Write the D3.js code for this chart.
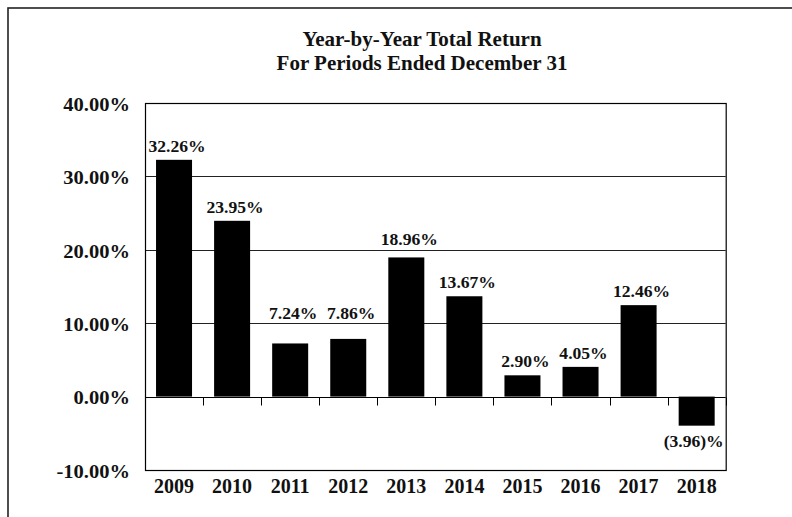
<!DOCTYPE html>
<html>
<head>
<meta charset="utf-8">
<script src="https://cdn.jsdelivr.net/npm/d3@7"></script>
<style>
  html, body { margin: 0; padding: 0; background: #fff; }
  svg { display: block; }
  text { font-family: "Liberation Serif", "Times New Roman", serif; font-weight: bold; fill: #111; }
</style>
</head>
<body>
<script>
const years = ["2009","2010","2011","2012","2013","2014","2015","2016","2017","2018"];
const returns = [32.26, 23.95, 7.24, 7.86, 18.96, 13.67, 2.90, 4.05, 12.46, -3.96];
const yTicks = [-10, 0, 10, 20, 30, 40];
const titleLines = ["Year-by-Year Total Return", "For Periods Ended December 31"];

const W = 792, H = 517;
const plot = { left: 145, right: 725.7, top: 103, bottom: 470 };

const svg = d3.select("body").append("svg").attr("width", W).attr("height", H);

// outer frame (extends beyond the visible area)
svg.append("rect").attr("x", 8).attr("y", 8).attr("width", 820).attr("height", 540)
  .attr("fill", "none").attr("stroke", "#222").attr("stroke-width", 1.6);

const x = d3.scaleBand().domain(years).range([plot.left, plot.right])
  .paddingInner(0.38).paddingOuter(0.19);
const y = d3.scaleLinear().domain([-10, 40]).range([plot.bottom, plot.top]);

// title
svg.selectAll("text.title").data(titleLines).join("text")
  .attr("class", "title")
  .attr("x", 422).attr("y", (d, i) => 45.7 + i * 24.5)
  .attr("text-anchor", "middle").style("font-size", "21px")
  .text(d => d);

// gridlines
svg.append("g").selectAll("line").data(yTicks.filter(t => t > -10 && t < 40 && t !== 0)).join("line")
  .attr("x1", plot.left).attr("x2", plot.right)
  .attr("y1", d => Math.round(y(d)) + 0.5).attr("y2", d => Math.round(y(d)) + 0.5)
  .attr("stroke", "#222").attr("stroke-width", 1);

// bars
svg.append("g").selectAll("rect").data(years).join("rect")
  .attr("x", d => x(d))
  .attr("width", x.bandwidth())
  .attr("y", (d, i) => y(Math.max(0, returns[i])))
  .attr("height", (d, i) => Math.abs(y(returns[i]) - y(0)))
  .attr("fill", "#000");

// zero line
const y0 = Math.round(y(0)) + 0.5;
svg.append("line").attr("x1", plot.left).attr("x2", plot.right)
  .attr("y1", y0).attr("y2", y0).attr("stroke", "#000").attr("stroke-width", 1.2);

// ticks between categories on zero line
const step = x.step();
const tickXs = years.slice(1).map(d => x(d) - step * x.paddingInner() / 2).concat([plot.right]);
svg.append("g").selectAll("line").data(tickXs).join("line")
  .attr("x1", d => Math.round(d) + 0.5).attr("x2", d => Math.round(d) + 0.5)
  .attr("y1", y0).attr("y2", y0 + 8)
  .attr("stroke", "#000").attr("stroke-width", 1);

// plot frame
svg.append("rect")
  .attr("x", plot.left + 0.5).attr("y", plot.top + 0.5)
  .attr("width", plot.right - plot.left).attr("height", plot.bottom - plot.top)
  .attr("fill", "none").attr("stroke", "#000").attr("stroke-width", 1.2);

// y tick labels
const fmtPct = v => v.toFixed(2) + "%";
svg.append("g").selectAll("text").data(yTicks).join("text")
  .attr("transform", d => `translate(130,${y(d) + 7.7}) scale(1.14,1)`)
  .attr("text-anchor", "end").style("font-size", "18px")
  .text(d => fmtPct(d));

// x labels
svg.append("g").selectAll("text").data(years).join("text")
  .attr("x", d => x(d) + x.bandwidth() / 2).attr("y", 492.7)
  .attr("text-anchor", "middle").style("font-size", "20px")
  .text(d => d);

// value labels
const grids = [10, 20, 30].map(t => y(t));
function labelY(v) {
  if (v < 0) return y(v) + 21;
  let b = y(v) - 8;
  for (const g of grids) {
    if (g > b - 13 && g < b + 4) b = g - 4.5;
  }
  return b;
}
const fmtVal = v => v < 0 ? "(" + Math.abs(v).toFixed(2) + ")%" : v.toFixed(2) + "%";
svg.append("g").selectAll("text").data(years).join("text")
  .attr("transform", (d, i) => {
    const v = returns[i];
    const cx = x(d) + x.bandwidth() / 2 + (v < 0 ? -3 : 3);
    return `translate(${cx},${labelY(v)}) scale(1.1,1)`;
  })
  .attr("text-anchor", "middle").style("font-size", "16px")
  .text((d, i) => fmtVal(returns[i]));
</script>
</body>
</html>
